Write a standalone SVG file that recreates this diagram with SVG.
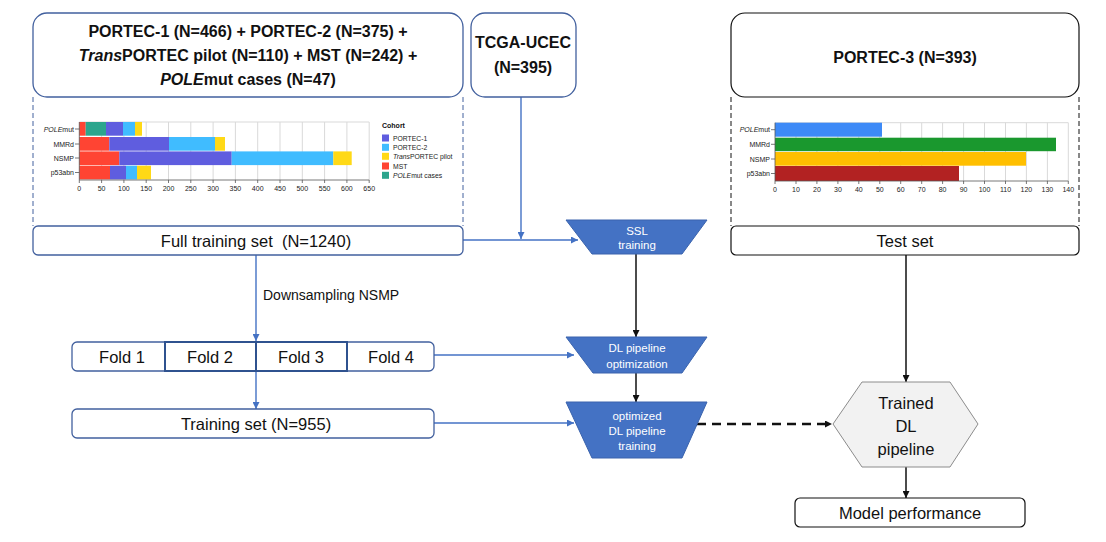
<svg xmlns="http://www.w3.org/2000/svg" width="1106" height="542" viewBox="0 0 1106 542">
<defs>
<style>
text{font-family:"Liberation Sans",Arial,sans-serif;fill:#111}
.bx{fill:#fff;stroke:#42609e;stroke-width:1.3}
.bk{fill:#fff;stroke:#111;stroke-width:1.2}
.lbl{font-size:16.5px;text-anchor:middle}
.hd{font-size:16px;font-weight:bold;text-anchor:middle}
.tz{fill:#4472c4;stroke:#3a63ad;stroke-width:1}
.tt{fill:#fff;font-size:11.5px;text-anchor:middle}
.blue{stroke:#4472c4;stroke-width:1.4;fill:none}
.blk{stroke:#111;stroke-width:1.5;fill:none}
.dsh{stroke-dasharray:5,3;stroke-width:1;fill:none}
.grid{stroke:#d9d9d9;stroke-width:1}
.ax{font-size:7px;text-anchor:middle;fill:#222}
.ay{font-size:7px;text-anchor:end;fill:#222}
.lg{font-size:6.8px;fill:#222}
</style>
<marker id="ab" viewBox="0 0 10 10" refX="10" refY="5" markerWidth="7" markerHeight="7" markerUnits="userSpaceOnUse" orient="auto"><path d="M0,0 L10,5 L0,10 z" fill="#4472c4"/></marker>
<marker id="ak" viewBox="0 0 10 10" refX="10" refY="5" markerWidth="7" markerHeight="7" markerUnits="userSpaceOnUse" orient="auto"><path d="M0,0 L10,5 L0,10 z" fill="#111"/></marker>
</defs>
<rect width="1106" height="542" fill="#fff"/>

<g id="connectors">
<line class="dsh" x1="33" y1="97" x2="33" y2="226" stroke="#42609e"/>
<line class="dsh" x1="463" y1="97" x2="463" y2="226" stroke="#42609e"/>
<line class="dsh" x1="731" y1="97" x2="731" y2="226" stroke="#111"/>
<line class="dsh" x1="1079" y1="97" x2="1079" y2="226" stroke="#111"/>
<line class="blue" x1="521" y1="97" x2="521" y2="239" marker-end="url(#ab)"/>
<line class="blue" x1="463" y1="240" x2="578" y2="240" marker-end="url(#ab)"/>
<line class="blue" x1="434" y1="355" x2="574" y2="355" marker-end="url(#ab)"/>
<line class="blue" x1="434" y1="423" x2="574" y2="423" marker-end="url(#ab)"/>
<line class="blue" x1="256" y1="255" x2="256" y2="341" marker-end="url(#ab)"/>
<line class="blue" x1="256" y1="371" x2="256" y2="409" marker-end="url(#ab)"/>
<line class="blk" x1="636" y1="254" x2="636" y2="337" marker-end="url(#ak)"/>
<line class="blk" x1="636" y1="373" x2="636" y2="402" marker-end="url(#ak)"/>
<line x1="697" y1="424" x2="832" y2="424" stroke="#111" stroke-width="2.5" stroke-dasharray="9,6" marker-end="url(#ak)"/>
<line class="blk" x1="906" y1="255" x2="906" y2="382" stroke-width="1.2" marker-end="url(#ak)"/>
<line class="blk" x1="906" y1="467" x2="906" y2="498" stroke-width="1.2" marker-end="url(#ak)"/>
<text x="263" y="300" font-size="14px">Downsampling NSMP</text>
</g>

<g id="cohorts">
<rect class="bx" x="33" y="13" width="430" height="84" rx="14"/>
<text class="hd" x="248" y="37">PORTEC-1 (N=466) + PORTEC-2 (N=375) +</text>
<text class="hd" x="248" y="61"><tspan font-style="italic">Trans</tspan>PORTEC pilot (N=110) + MST (N=242) +</text>
<text class="hd" x="248" y="85"><tspan font-style="italic">POLE</tspan>mut cases (N=47)</text>
</g>

<g id="tcga">
<rect class="bx" x="471" y="13" width="105" height="84" rx="14"/>
<text class="hd" x="523" y="48" font-size="16.5px">TCGA-UCEC</text>
<text class="hd" x="523" y="73" font-size="16.5px">(N=395)</text>
</g>

<g id="portec3">
<rect class="bk" x="731" y="13" width="348" height="84" rx="14"/>
<text class="hd" x="905" y="63">PORTEC-3 (N=393)</text>
</g>

<g id="chart-left">
<g class="grid">
<line x1="79.3" y1="122" x2="369.2" y2="122"/>
<line x1="101.6" y1="122" x2="101.6" y2="180"/><line x1="123.9" y1="122" x2="123.9" y2="180"/><line x1="146.2" y1="122" x2="146.2" y2="180"/><line x1="168.5" y1="122" x2="168.5" y2="180"/><line x1="190.8" y1="122" x2="190.8" y2="180"/><line x1="213.1" y1="122" x2="213.1" y2="180"/><line x1="235.4" y1="122" x2="235.4" y2="180"/><line x1="257.7" y1="122" x2="257.7" y2="180"/><line x1="280" y1="122" x2="280" y2="180"/><line x1="302.3" y1="122" x2="302.3" y2="180"/><line x1="324.6" y1="122" x2="324.6" y2="180"/><line x1="346.9" y1="122" x2="346.9" y2="180"/><line x1="369.2" y1="122" x2="369.2" y2="180"/>
</g>
<rect x="79.3" y="122" width="6.4" height="13.7" fill="#ff4433"/>
<rect x="85.7" y="122" width="20.3" height="13.7" fill="#2ca58d"/>
<rect x="106" y="122" width="17" height="13.7" fill="#5f5ddf"/>
<rect x="123" y="122" width="12" height="13.7" fill="#40bcff"/>
<rect x="135" y="122" width="7" height="13.7" fill="#ffd916"/>
<rect x="79.3" y="137" width="30" height="13.7" fill="#ff4433"/>
<rect x="109.3" y="137" width="59.7" height="13.7" fill="#5f5ddf"/>
<rect x="169" y="137" width="46" height="13.7" fill="#40bcff"/>
<rect x="215" y="137" width="10" height="13.7" fill="#ffd916"/>
<rect x="79.3" y="151.4" width="40" height="13.7" fill="#ff4433"/>
<rect x="119.3" y="151.4" width="112.4" height="13.7" fill="#5f5ddf"/>
<rect x="231.7" y="151.4" width="101.6" height="13.7" fill="#40bcff"/>
<rect x="333.3" y="151.4" width="18.4" height="13.7" fill="#ffd916"/>
<rect x="79.3" y="165.7" width="30.7" height="13.7" fill="#ff4433"/>
<rect x="110" y="165.7" width="16" height="13.7" fill="#5f5ddf"/>
<rect x="126" y="165.7" width="11" height="13.7" fill="#40bcff"/>
<rect x="137" y="165.7" width="14" height="13.7" fill="#ffd916"/>
<g stroke="#555" stroke-width="0.8">
<line x1="79.3" y1="122" x2="79.3" y2="180"/>
<line x1="79.3" y1="180" x2="369.2" y2="180"/>
<line x1="75" y1="129" x2="79.3" y2="129"/><line x1="75" y1="144" x2="79.3" y2="144"/><line x1="75" y1="158" x2="79.3" y2="158"/><line x1="75" y1="172.5" x2="79.3" y2="172.5"/>
<line x1="79.3" y1="180" x2="79.3" y2="183"/><line x1="101.6" y1="180" x2="101.6" y2="183"/><line x1="123.9" y1="180" x2="123.9" y2="183"/><line x1="146.2" y1="180" x2="146.2" y2="183"/><line x1="168.5" y1="180" x2="168.5" y2="183"/><line x1="190.8" y1="180" x2="190.8" y2="183"/><line x1="213.1" y1="180" x2="213.1" y2="183"/><line x1="235.4" y1="180" x2="235.4" y2="183"/><line x1="257.7" y1="180" x2="257.7" y2="183"/><line x1="280" y1="180" x2="280" y2="183"/><line x1="302.3" y1="180" x2="302.3" y2="183"/><line x1="324.6" y1="180" x2="324.6" y2="183"/><line x1="346.9" y1="180" x2="346.9" y2="183"/><line x1="369.2" y1="180" x2="369.2" y2="183"/>
</g>
<text class="ay" x="74" y="131.5"><tspan font-style="italic">POLE</tspan>mut</text>
<text class="ay" x="74" y="146.5">MMRd</text>
<text class="ay" x="74" y="160.5">NSMP</text>
<text class="ay" x="74" y="175">p53abn</text>
<text class="ax" x="79.3" y="191">0</text><text class="ax" x="101.6" y="191">50</text><text class="ax" x="123.9" y="191">100</text><text class="ax" x="146.2" y="191">150</text><text class="ax" x="168.5" y="191">200</text><text class="ax" x="190.8" y="191">250</text><text class="ax" x="213.1" y="191">300</text><text class="ax" x="235.4" y="191">350</text><text class="ax" x="257.7" y="191">400</text><text class="ax" x="280" y="191">450</text><text class="ax" x="302.3" y="191">500</text><text class="ax" x="324.6" y="191">550</text><text class="ax" x="346.9" y="191">600</text><text class="ax" x="369.2" y="191">650</text>
<text x="382" y="128" font-size="7px" font-weight="bold" fill="#222">Cohort</text>
<rect x="382" y="134.5" width="7" height="7" fill="#5f5ddf"/><text class="lg" x="393" y="140.5">PORTEC-1</text>
<rect x="382" y="143.8" width="7" height="7" fill="#40bcff"/><text class="lg" x="393" y="149.8">PORTEC-2</text>
<rect x="382" y="152.8" width="7" height="7" fill="#ffd916"/><text class="lg" x="393" y="158.8"><tspan font-style="italic">Trans</tspan>PORTEC pilot</text>
<rect x="382" y="162.5" width="7" height="7" fill="#ff4433"/><text class="lg" x="393" y="168.5">MST</text>
<rect x="382" y="171.8" width="7" height="7" fill="#2ca58d"/><text class="lg" x="393" y="177.8"><tspan font-style="italic">POLE</tspan>mut cases</text>
</g>

<g id="chart-right">
<g class="grid">
<line x1="775" y1="122.7" x2="1068.3" y2="122.7"/>
<line x1="796" y1="122.7" x2="796" y2="181"/><line x1="816.9" y1="122.7" x2="816.9" y2="181"/><line x1="837.9" y1="122.7" x2="837.9" y2="181"/><line x1="858.8" y1="122.7" x2="858.8" y2="181"/><line x1="879.8" y1="122.7" x2="879.8" y2="181"/><line x1="900.7" y1="122.7" x2="900.7" y2="181"/><line x1="921.7" y1="122.7" x2="921.7" y2="181"/><line x1="942.6" y1="122.7" x2="942.6" y2="181"/><line x1="963.6" y1="122.7" x2="963.6" y2="181"/><line x1="984.5" y1="122.7" x2="984.5" y2="181"/><line x1="1005.5" y1="122.7" x2="1005.5" y2="181"/><line x1="1026.4" y1="122.7" x2="1026.4" y2="181"/><line x1="1047.4" y1="122.7" x2="1047.4" y2="181"/><line x1="1068.3" y1="122.7" x2="1068.3" y2="181"/>
</g>
<rect x="775" y="122.7" width="107" height="14" fill="#3d8af7"/>
<rect x="775" y="137.7" width="281" height="13.5" fill="#1a982e"/>
<rect x="775" y="152" width="251" height="13.7" fill="#ffbf00"/>
<rect x="775" y="166" width="184" height="15" fill="#b22222"/>
<g stroke="#555" stroke-width="0.8">
<line x1="775" y1="122.7" x2="775" y2="181"/>
<line x1="775" y1="181" x2="1068.3" y2="181"/>
<line x1="771" y1="129.7" x2="775" y2="129.7"/><line x1="771" y1="144.3" x2="775" y2="144.3"/><line x1="771" y1="159" x2="775" y2="159"/><line x1="771" y1="173.5" x2="775" y2="173.5"/>
<line x1="775" y1="181" x2="775" y2="184"/><line x1="796" y1="181" x2="796" y2="184"/><line x1="816.9" y1="181" x2="816.9" y2="184"/><line x1="837.9" y1="181" x2="837.9" y2="184"/><line x1="858.8" y1="181" x2="858.8" y2="184"/><line x1="879.8" y1="181" x2="879.8" y2="184"/><line x1="900.7" y1="181" x2="900.7" y2="184"/><line x1="921.7" y1="181" x2="921.7" y2="184"/><line x1="942.6" y1="181" x2="942.6" y2="184"/><line x1="963.6" y1="181" x2="963.6" y2="184"/><line x1="984.5" y1="181" x2="984.5" y2="184"/><line x1="1005.5" y1="181" x2="1005.5" y2="184"/><line x1="1026.4" y1="181" x2="1026.4" y2="184"/><line x1="1047.4" y1="181" x2="1047.4" y2="184"/><line x1="1068.3" y1="181" x2="1068.3" y2="184"/>
</g>
<text class="ay" x="770" y="132"><tspan font-style="italic">POLE</tspan>mut</text>
<text class="ay" x="770" y="146.8">MMRd</text>
<text class="ay" x="770" y="161.5">NSMP</text>
<text class="ay" x="770" y="176">p53abn</text>
<text class="ax" x="775" y="192">0</text><text class="ax" x="796" y="192">10</text><text class="ax" x="816.9" y="192">20</text><text class="ax" x="837.9" y="192">30</text><text class="ax" x="858.8" y="192">40</text><text class="ax" x="879.8" y="192">50</text><text class="ax" x="900.7" y="192">60</text><text class="ax" x="921.7" y="192">70</text><text class="ax" x="942.6" y="192">80</text><text class="ax" x="963.6" y="192">90</text><text class="ax" x="984.5" y="192">100</text><text class="ax" x="1005.5" y="192">110</text><text class="ax" x="1026.4" y="192">120</text><text class="ax" x="1047.4" y="192">130</text><text class="ax" x="1068.3" y="192">140</text>
</g>

<g id="full-training">
<rect class="bx" x="33" y="226" width="430" height="29" rx="5"/>
<text class="lbl" x="256" y="246.5" xml:space="preserve">Full training set  (N=1240)</text>
</g>

<g id="test-set">
<rect class="bk" x="731" y="226" width="348" height="29" rx="5"/>
<text class="lbl" x="905" y="246.5">Test set</text>
</g>

<g id="folds">
<rect class="bx" x="72" y="342" width="362" height="29" rx="5"/>
<rect x="165" y="342" width="182" height="29" fill="none" stroke="#2f528f" stroke-width="2"/>
<line x1="256" y1="342" x2="256" y2="371" stroke="#2f528f" stroke-width="2"/>
<text class="lbl" x="122" y="362.5">Fold 1</text>
<text class="lbl" x="210" y="362.5">Fold 2</text>
<text class="lbl" x="301" y="362.5">Fold 3</text>
<text class="lbl" x="391" y="362.5">Fold 4</text>
</g>

<g id="training-set">
<rect class="bx" x="72" y="409" width="362" height="29" rx="5"/>
<text class="lbl" x="256" y="429.5">Training set (N=955)</text>
</g>

<g id="ssl">
<polygon class="tz" points="566,220 707,220 682,254 592,254"/>
<text class="tt" x="637" y="235">SSL</text>
<text class="tt" x="637" y="249">training</text>
</g>

<g id="dl-opt">
<polygon class="tz" points="566,337 707,337 682,373 593,373"/>
<text class="tt" x="637" y="352">DL pipeline</text>
<text class="tt" x="637" y="368">optimization</text>
</g>

<g id="dl-train">
<polygon class="tz" points="566,402 707,402 682,458 592,458"/>
<text class="tt" x="637" y="420">optimized</text>
<text class="tt" x="637" y="435">DL pipeline</text>
<text class="tt" x="637" y="450">training</text>
</g>

<g id="trained">
<polygon points="862,382 950,382 978,424 950,467 862,467 833,424" fill="#f2f2f2" stroke="#8c8c8c" stroke-width="1"/>
<text class="lbl" x="906" y="409">Trained</text>
<text class="lbl" x="906" y="432">DL</text>
<text class="lbl" x="906" y="455">pipeline</text>
</g>

<g id="performance">
<rect class="bk" x="795" y="498" width="230" height="29" rx="5"/>
<text class="lbl" x="910" y="519" font-size="17px">Model performance</text>
</g>
</svg>
